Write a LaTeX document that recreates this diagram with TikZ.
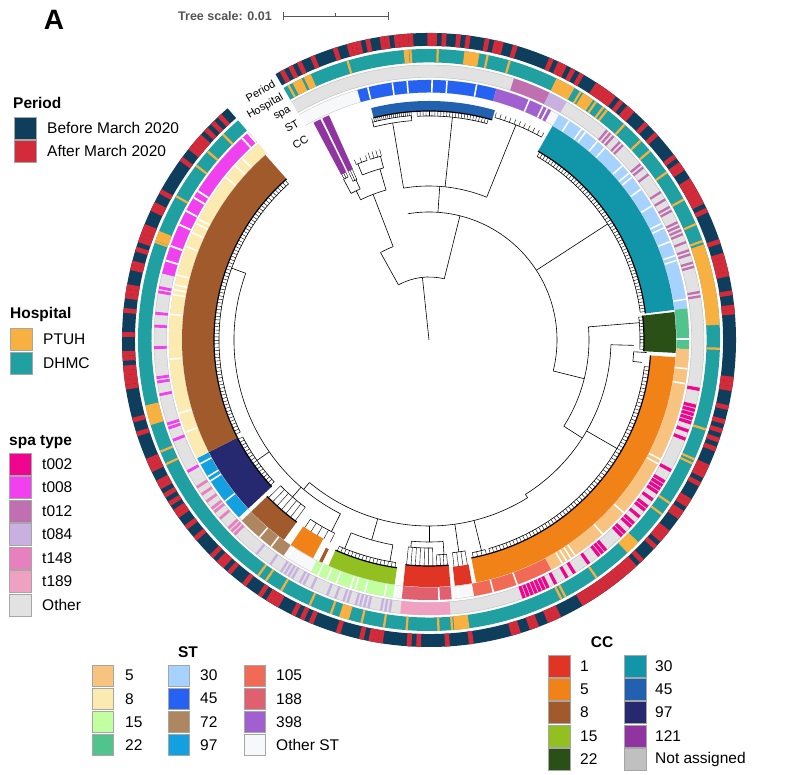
\documentclass[tikz,border=0pt]{standalone}
\usepackage{fontspec}
\setmainfont{Liberation Sans}
\begin{document}
\begin{tikzpicture}[x=1pt,y=1pt,
  swatch/.style={draw=gray!70,line width=0.6pt},
  legtext/.style={anchor=west,font=\fontsize{15.5}{16}\selectfont,inner sep=0pt},
  leghead/.style={anchor=west,font=\fontsize{15.5}{16}\selectfont\bfseries,inner sep=0pt},
  ringlabel/.style={anchor=east,font=\fontsize{11}{11}\selectfont,inner sep=0pt,rotate=30},
  treeline/.style={line width=0.6pt,black}]
\definecolor{pnavy}{HTML}{0F3D5C}
\definecolor{pred}{HTML}{D42B3A}
\definecolor{hptuh}{HTML}{F8B040}
\definecolor{hdhmc}{HTML}{20A0A0}
\definecolor{s002}{HTML}{F0068E}
\definecolor{s008}{HTML}{F040F0}
\definecolor{s012}{HTML}{C070B0}
\definecolor{s084}{HTML}{C8B0E0}
\definecolor{s148}{HTML}{E880C0}
\definecolor{s189}{HTML}{F0A0C0}
\definecolor{sother}{HTML}{E2E2E2}
\definecolor{st5}{HTML}{F7C37F}
\definecolor{st8}{HTML}{FCEBB0}
\definecolor{st15}{HTML}{C2FFA0}
\definecolor{st22}{HTML}{50C48C}
\definecolor{st30}{HTML}{A6D2FF}
\definecolor{st45}{HTML}{2562F2}
\definecolor{st72}{HTML}{AE8660}
\definecolor{st97}{HTML}{12A0E0}
\definecolor{st105}{HTML}{F06A55}
\definecolor{st188}{HTML}{E06070}
\definecolor{st398}{HTML}{A060D0}
\definecolor{stother}{HTML}{F6F8FA}
\definecolor{cc1}{HTML}{E03525}
\definecolor{cc5}{HTML}{F08218}
\definecolor{cc8}{HTML}{A05A2C}
\definecolor{cc15}{HTML}{92C020}
\definecolor{cc22}{HTML}{2A5018}
\definecolor{cc30}{HTML}{1096A8}
\definecolor{cc45}{HTML}{2260B0}
\definecolor{cc97}{HTML}{262870}
\definecolor{cc121}{HTML}{9035A0}
\definecolor{ccna}{HTML}{C0C0C0}
\definecolor{scalegray}{HTML}{555555}
\fill[white] (0,0) rectangle (790,775);
\useasboundingbox (0,0) rectangle (790,775);
% sector macro: color, r1, r2, a1, a2
\newcommand{\sect}[5]{\fill[#1] (#4:#2pt) arc[start angle=#4,end angle=#5,radius=#2pt] -- (#5:#3pt) arc[start angle=#5,end angle=#4,radius=#3pt] -- cycle;}
\newcommand{\tb}[3]{\draw[treeline] (#1:#2pt) -- (#1:#3pt);}
\newcommand{\ta}[3]{\draw[treeline] (#2:#1pt) arc[start angle=#2,end angle=#3,radius=#1pt];}
% fan: r_in, r_tip, a1, a2, n
\newcommand{\fan}[5]{\ta{#1}{#3}{#4}
  \foreach \k in {0,...,#5}{\pgfmathsetmacro{\ang}{#3+(#4-#3)*\k/#5}\draw[line width=0.4pt] (\ang:#1pt) -- (\ang:#2pt);}}
\begin{scope}[shift={(429,435)}]
% ===== Period ring =====
\sect{pnavy}{294}{307}{120}{-229}
\pgfmathsetseed{4711}
\foreach \i in {0,...,386}{
  \pgfmathsetmacro{\aa}{120-0.9*\i}
  \pgfmathsetmacro{\bb}{\aa-0.9}
  \pgfmathsetmacro{\rr}{rnd}
  \ifdim\rr pt<0.45pt \sect{pred}{294}{307}{\aa}{\bb}\fi
}
% ===== Hospital ring =====
\sect{hdhmc}{277.5}{291}{120}{-229}
\foreach \i in {0,...,386}{
  \pgfmathsetmacro{\aa}{120-0.9*\i}
  \pgfmathsetmacro{\bb}{\aa-0.45}
  \pgfmathsetmacro{\rr}{rnd}
  \ifdim\rr pt<0.16pt \sect{hptuh}{277.5}{291}{\aa}{\bb}\fi
}
\foreach \a/\b in {118/116,115.5/114,83/80,64/60,58/56,19/3,-44/-47,-82/-85,-106/-108,-163/-167,-200/-202,95/94}{
  \sect{hptuh}{277.5}{291}{\a}{\b}}
% ===== spa ring =====
\sect{sother}{262.5}{275}{120}{-229}
\draw[gray!60,line width=0.3pt] (120:262.5pt) arc[start angle=120,end angle=-229,radius=262.5pt];
\draw[gray!60,line width=0.3pt] (120:275pt) arc[start angle=120,end angle=-229,radius=275pt];
\sect{s012}{262.5}{275}{72}{64}
\sect{s084}{262.5}{275}{64}{60}
\foreach \i in {0,...,55}{
  \pgfmathsetmacro{\aa}{58-0.9*\i}
  \pgfmathsetmacro{\bb}{\aa-0.5}
  \pgfmathsetmacro{\rr}{rnd}
  \ifdim\rr pt<0.35pt \sect{s012}{262.5}{275}{\aa}{\bb}\fi
}
\foreach \i in {0,...,66}{
  \pgfmathsetmacro{\aa}{-10-0.9*\i}
  \pgfmathsetmacro{\bb}{\aa-0.7}
  \pgfmathsetmacro{\rr}{rnd}
  \ifdim\rr pt<0.55pt \sect{s002}{262.5}{275}{\aa}{\bb}\fi
}
\sect{s189}{262.5}{275}{-85.5}{-96}
\foreach \i in {0,...,35}{
  \pgfmathsetmacro{\aa}{-98-0.9*\i}
  \pgfmathsetmacro{\bb}{\aa-0.5}
  \pgfmathsetmacro{\rr}{rnd}
  \ifdim\rr pt<0.5pt \sect{s084}{262.5}{275}{\aa}{\bb}\fi
}
\foreach \i in {0,...,22}{
  \pgfmathsetmacro{\aa}{-132-0.9*\i}
  \pgfmathsetmacro{\bb}{\aa-0.6}
  \pgfmathsetmacro{\rr}{rnd}
  \ifdim\rr pt<0.5pt \sect{s148}{262.5}{275}{\aa}{\bb}\fi
}
\sect{s008}{262.5}{275}{131}{166}
\foreach \i in {0,...,21}{
  \pgfmathsetmacro{\aa}{131+1.6*\i}
  \pgfmathsetmacro{\bb}{\aa+0.4}
  \pgfmathsetmacro{\rr}{rnd}
  \ifdim\rr pt<0.35pt \sect{white}{262.5}{275}{\aa}{\bb}\fi
}
\foreach \i in {0,...,50}{
  \pgfmathsetmacro{\aa}{166+0.9*\i}
  \pgfmathsetmacro{\bb}{\aa+0.6}
  \pgfmathsetmacro{\rr}{rnd}
  \ifdim\rr pt<0.3pt \sect{s008}{262.5}{275}{\aa}{\bb}\fi
}
% ===== ST ring =====
\sect{stother}{247.5}{260}{120}{-229}
\draw[gray!50,line width=0.3pt] (120:247.5pt) arc[start angle=120,end angle=-229,radius=247.5pt];
\draw[gray!50,line width=0.3pt] (120:260pt) arc[start angle=120,end angle=-229,radius=260pt];
\sect{st45}{247.5}{260}{106}{75}
\sect{st398}{247.5}{260}{75}{62}
\sect{st30}{247.5}{260}{60}{7}
\sect{st22}{247.5}{260}{7}{-2}
\sect{st5}{247.5}{260}{-2}{-62}
\sect{st105}{247.5}{260}{-62}{-80}
\sect{st188}{247.5}{260}{-85}{-96}
\sect{st15}{247.5}{260}{-98}{-117}
\sect{st72}{247.5}{260}{-124}{-136}
\sect{st97}{247.5}{260}{-137}{-153}
\sect{st8}{247.5}{260}{-153}{-229}
\foreach \i in {0,...,300}{
  \pgfmathsetmacro{\aa}{106-1.1*\i}
  \pgfmathsetmacro{\bb}{\aa-0.35}
  \pgfmathsetmacro{\rr}{rnd}
  \ifdim\rr pt<0.22pt \sect{white}{247.5}{260}{\aa}{\bb}\fi
}
% ===== CC ring =====
\sect{cc121}{187}{246}{118}{116.2}
\sect{cc121}{187}{246}{115.7}{114}
\sect{cc45}{229}{239}{104}{74}
\sect{cc30}{218}{247}{60}{7}
\sect{cc22}{215}{247}{6.5}{-3}
\sect{cc5}{222}{247}{-4}{-79}
\sect{cc1}{228}{247}{-80}{-84}
\sect{cc1}{226}{247}{-85}{-96}
\sect{cc15}{230}{247}{-98}{-114}
\sect{cc8}{232}{247}{-115.6}{-116.4}
\sect{cc5}{225}{247}{-118}{-124}
\sect{cc8}{225}{247}{-126}{-136}
\sect{cc97}{215}{247}{-137}{-153}
\sect{cc8}{215}{247}{-153}{-228.5}
% tip lines
\foreach \r/\a/\b in {229/104/74,218/60/7,215/6.5/-3,222/-4/-79,226/-85/-96,230/-98/-114,225/-126/-136,215/-137/-153,215/-153/-228.5}{
  \draw[line width=1.2pt] (\a:\r pt) arc[start angle=\a,end angle=\b,radius=\r pt];}
% ===== tree =====
\tb{96}{0}{63}
\ta{63}{76}{119}
% left clade (CC121 + unassigned)
\tb{119}{63}{100}
\ta{100}{119}{111}
\tb{111}{100}{156}
\ta{156}{116}{106}
\tb{116}{156}{166}
\ta{166}{118}{114.5}
\tb{118}{166}{182}
\tb{114.5}{166}{176}
\fan{182}{187}{117.8}{116.4}{2}
\fan{176}{187}{115.6}{114.2}{2}
\tb{106}{156}{178}
\ta{178}{112}{104.8}
\tb{112}{178}{190}
\fan{190}{195}{112.5}{109}{2}
\tb{104.8}{178}{190}
\fan{190}{197}{108}{104.5}{3}
% right clade
\tb{76}{63}{128}
\ta{128}{99.5}{-14}
\tb{86}{128}{154}
\ta{154}{99.5}{68}
\tb{99.5}{154}{220}
\ta{220}{104.5}{94.5}
\fan{225}{229}{104.5}{94.5}{20}
\tb{104.5}{220}{225}
\tb{94.5}{220}{225}
\tb{84}{154}{224}
\fan{224}{229}{93}{75}{24}
\tb{68}{154}{232}
\fan{232}{237}{73.5}{61}{10}
\tb{33}{128}{213}
\fan{213}{218}{59.5}{7.5}{60}
\tb{-14}{128}{160}
\ta{160}{4.7}{-32.6}
\tb{4.7}{160}{211}
\fan{211}{215}{6.2}{-2.5}{10}
\tb{-32.6}{160}{182}
\ta{182}{-1.5}{-58}
\tb{-1.5}{182}{205}
\ta{205}{-3.3}{-6}
\tb{-3.3}{205}{218}
\tb{-6}{205}{214}
\tb{-30}{182}{217}
\fan{217}{222}{-7}{-74}{70}
\tb{-58}{182}{186}
\ta{186}{-58}{-130}
\tb{-76}{186}{217}
\fan{217}{222}{-75}{-78.5}{3}
\tb{-82}{186}{214}
\fan{214}{228}{-80.3}{-83.7}{3}
\tb{-90}{186}{202}
\ta{202}{-86}{-95}
\tb{-86}{202}{215}
\fan{215}{226}{-85.3}{-88}{3}
\tb{-95}{202}{208}
\fan{208}{226}{-89}{-95.7}{6}
\tb{-106}{186}{208}
\ta{208}{-100}{-112}
\tb{-100}{208}{225}
\tb{-112}{208}{225}
\fan{225}{230}{-98.5}{-113.5}{16}
\tb{-130}{186}{195}
\ta{195}{-117}{-200}
\tb{-117}{195}{215}
\fan{215}{225}{-116}{-123.5}{4}
\tb{-131}{195}{208}
\fan{208}{225}{-126.5}{-135.5}{6}
\tb{-145}{195}{210}
\fan{210}{215}{-137.5}{-152.5}{16}
\tb{-200}{195}{210}
\fan{210}{215}{-154}{-228}{80}
% ===== ring labels =====
\node[ringlabel] (lbP) at (121:300pt) {Period};
\node[ringlabel] (lbH) at (121:284pt) {Hospital};
\node[ringlabel] (lbS) at (121:269pt) {spa};
\node[ringlabel] (lbT) at (121:254pt) {ST};
\node[ringlabel] (lbC) at (121:236pt) {CC};
\end{scope}
% ===== title & scale =====
\node[font=\fontsize{28}{30}\selectfont\bfseries] (A) at (54,755) {A};
\node[anchor=east,font=\fontsize{12.5}{13}\selectfont\bfseries,text=scalegray,inner sep=0pt] (ts) at (272,759) {Tree scale: 0.01};
\coordinate (s1) at (283,759); \coordinate (s2) at (388,759); \coordinate (sm) at (335.5,759);
\draw[scalegray,line width=0.8pt] (s1) -- (s2);
\draw[scalegray,line width=0.8pt] ([yshift=-4pt]s1) -- ([yshift=4pt]s1);
\draw[scalegray,line width=0.8pt] ([yshift=-4pt]s2) -- ([yshift=4pt]s2);
\draw[scalegray,line width=0.8pt] (sm) -- ([yshift=3pt]sm);
% ===== Period legend =====
\node[leghead] (lp) at (13,672) {Period};
\draw[swatch,fill=pnavy] (14,658) rectangle (36,636);
\draw[swatch,fill=pred] (14,635) rectangle (36,613);
\node[legtext] (lp1) at (47,647) {Before March 2020};
\node[legtext] (lp2) at (47,624) {After March 2020};
% ===== Hospital legend =====
\node[leghead] (lh) at (10,460) {Hospital};
\draw[swatch,fill=hptuh] (10,447) rectangle (32,425);
\draw[swatch,fill=hdhmc] (10,423) rectangle (32,401);
\node[legtext] (lh1) at (43,436) {PTUH};
\node[legtext] (lh2) at (43,412) {DHMC};
% ===== spa legend =====
\node[leghead] (ls) at (9,333) {spa type};
\foreach \c/\t [count=\k from 0] in {s002/t002,s008/t008,s012/t012,s084/t084,s148/t148,s189/t189,sother/Other}{
  \pgfmathsetmacro{\yt}{775-453-23.5*\k}
  \draw[swatch,fill=\c] (9,\yt) rectangle (31,\yt-22);
  \node[legtext] at (42,\yt-11) {\t};
}
% ===== ST legend =====
\node[font=\fontsize{15.5}{16}\selectfont\bfseries] (lst) at (188,123) {ST};
\foreach \c/\t [count=\k from 0] in {st5/5,st8/8,st15/15,st22/22}{
  \pgfmathsetmacro{\yt}{775-665-23.2*\k}
  \draw[swatch,fill=\c] (92,\yt) rectangle (113,\yt-21);
  \node[legtext] at (125,\yt-10.5) {\t};
}
\foreach \c/\t [count=\k from 0] in {st30/30,st45/45,st72/72,st97/97}{
  \pgfmathsetmacro{\yt}{775-665-23.2*\k}
  \draw[swatch,fill=\c] (168,\yt) rectangle (189,\yt-21);
  \node[legtext] at (200,\yt-10.5) {\t};
}
\foreach \c/\t [count=\k from 0] in {st105/105,st188/188,st398/398,stother/Other ST}{
  \pgfmathsetmacro{\yt}{775-665-23.2*\k}
  \draw[swatch,fill=\c] (244,\yt) rectangle (265,\yt-21);
  \node[legtext] at (276,\yt-10.5) {\t};
}
% ===== CC legend =====
\node[font=\fontsize{15.5}{16}\selectfont\bfseries] (lcc) at (602,133) {CC};
\foreach \c/\t [count=\k from 0] in {cc1/1,cc5/5,cc8/8,cc15/15,cc22/22}{
  \pgfmathsetmacro{\yt}{775-655-23.3*\k}
  \draw[swatch,fill=\c] (548,\yt) rectangle (570,\yt-22);
  \node[legtext] at (580,\yt-11) {\t};
}
\foreach \c/\t [count=\k from 0] in {cc30/30,cc45/45,cc97/97,cc121/121,ccna/Not assigned}{
  \pgfmathsetmacro{\yt}{775-655-23.3*\k}
  \draw[swatch,fill=\c] (624,\yt) rectangle (646,\yt-22);
  \node[legtext] at (655,\yt-11) {\t};
}
\end{tikzpicture}
\end{document}
